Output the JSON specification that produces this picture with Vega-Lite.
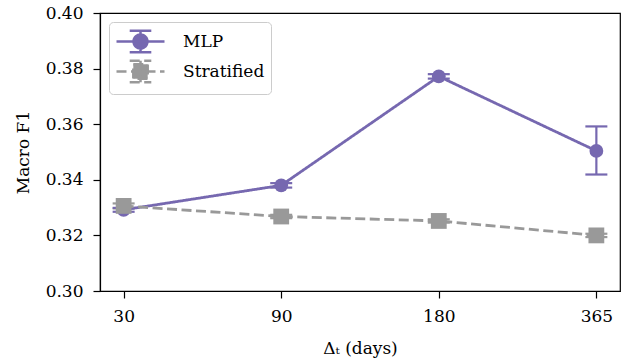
{
  "$schema": "https://vega.github.io/schema/vega-lite/v6.json",
  "width": 520,
  "height": 278,
  "autosize": {"type": "none"},
  "padding": {"left": 100, "top": 13, "right": 9, "bottom": 73},
  "background": "white",
  "config": {
    "view": {"stroke": "black", "strokeWidth": 1.2},
    "axis": {
      "domainColor": "black", "domainWidth": 1.2,
      "tickColor": "black", "tickWidth": 1.2, "tickSize": 7,
      "labelColor": "black", "labelFont": "DejaVu Serif", "labelFontSize": 17,
      "titleColor": "black", "titleFont": "DejaVu Serif", "titleFontSize": 17, "titleFontWeight": "normal",
      "grid": false
    },
    "legend": {
      "orient": "top-left", "offset": 9,
      "fillColor": "white", "strokeColor": "#cccccc", "cornerRadius": 4, "padding": 6,
      "labelFont": "DejaVu Serif", "labelFontSize": 17, "labelColor": "black",
      "symbolSize": 576, "symbolStrokeWidth": 2.5, "labelOffset": 41, "rowPadding": -6
    }
  },
  "data": {
    "values": [
      {"model": "MLP", "dt": 30, "f1": 0.3292, "lo": 0.3285, "hi": 0.3299},
      {"model": "MLP", "dt": 90, "f1": 0.3380, "lo": 0.3372, "hi": 0.3388},
      {"model": "MLP", "dt": 180, "f1": 0.3772, "lo": 0.3764, "hi": 0.3780},
      {"model": "MLP", "dt": 365, "f1": 0.3504, "lo": 0.3419, "hi": 0.3592},
      {"model": "Stratified", "dt": 30, "f1": 0.3306, "lo": 0.3297, "hi": 0.3315},
      {"model": "Stratified", "dt": 90, "f1": 0.3268, "lo": 0.3262, "hi": 0.3274},
      {"model": "Stratified", "dt": 180, "f1": 0.3252, "lo": 0.3246, "hi": 0.3258},
      {"model": "Stratified", "dt": 365, "f1": 0.3200, "lo": 0.3194, "hi": 0.3206}
    ]
  },
  "encoding": {
    "x": {
      "field": "dt", "type": "ordinal", "sort": [30, 90, 180, 365],
      "scale": {"type": "point", "padding": 0.15},
      "axis": {"title": "Δₜ (days)", "labelAngle": 0, "labelPadding": 10, "titlePadding": 16}
    }
  },
  "layer": [
    {
      "mark": {"type": "rule", "strokeWidth": 2.2, "opacity": 1},
      "encoding": {
        "y": {"field": "lo", "type": "quantitative", "scale": {"domain": [0.3, 0.4], "nice": false, "zero": false},
              "axis": {"title": "Macro F1", "values": [0.3, 0.32, 0.34, 0.36, 0.38, 0.4], "format": ".2f", "labelPadding": 10, "titlePadding": 13}},
        "y2": {"field": "hi"},
        "color": {"field": "model", "type": "nominal", "scale": {"range": ["#7668b0", "#999999"]}, "legend": null}
      }
    },
    {
      "mark": {"type": "tick", "size": 22, "thickness": 2.2, "opacity": 1},
      "encoding": {
        "y": {"field": "lo", "type": "quantitative"},
        "color": {"field": "model", "type": "nominal", "legend": null}
      }
    },
    {
      "mark": {"type": "tick", "size": 22, "thickness": 2.2, "opacity": 1},
      "encoding": {
        "y": {"field": "hi", "type": "quantitative"},
        "color": {"field": "model", "type": "nominal", "legend": null}
      }
    },
    {
      "mark": {"type": "line", "strokeWidth": 2.8},
      "encoding": {
        "y": {"field": "f1", "type": "quantitative"},
        "color": {"field": "model", "type": "nominal", "legend": null},
        "strokeDash": {"field": "model", "type": "nominal", "scale": {"domain": ["MLP", "Stratified"], "range": [[1, 0], [10, 4.5]]}, "title": null}
      }
    },
    {
      "transform": [{"filter": "datum.model === 'MLP'"}],
      "mark": {"type": "point", "shape": "circle", "size": 190, "filled": true, "opacity": 1},
      "encoding": {
        "y": {"field": "f1", "type": "quantitative"},
        "color": {"field": "model", "type": "nominal", "legend": null}
      }
    },
    {
      "transform": [{"filter": "datum.model === 'Stratified'"}],
      "mark": {"type": "point", "shape": "square", "size": 250, "filled": true, "opacity": 1},
      "encoding": {
        "y": {"field": "f1", "type": "quantitative"},
        "color": {"field": "model", "type": "nominal", "legend": null}
      }
    },
    {
      "transform": [{"filter": "datum.f1 > 1"}],
      "mark": {"type": "point", "filled": true, "opacity": 1},
      "encoding": {
        "y": {"field": "f1", "type": "quantitative"},
        "fill": {"field": "model", "type": "nominal", "scale": {"domain": ["MLP", "Stratified"], "range": ["#7668b0", "#999999"]}, "title": null},
        "stroke": {"field": "model", "type": "nominal", "scale": {"domain": ["MLP", "Stratified"], "range": ["#7668b0", "#999999"]}, "title": null},
        "shape": {"field": "model", "type": "nominal", "scale": {"domain": ["MLP", "Stratified"], "range": [
          "M-1,0H3M1,-0.9V0.9M0.1,-0.9H1.9M0.1,0.9H1.9M1.58,0A0.58,0.58,0,1,1,0.42,0A0.58,0.58,0,1,1,1.58,0Z",
          "M-1,0H3M1,-0.9V0.9M0.1,-0.9H1.9M0.1,0.9H1.9M0.4,-0.6H1.6V0.6H0.4Z"
        ]}, "title": null},
        "strokeDash": {"field": "model", "type": "nominal", "title": null}
      }
    }
  ]
}
